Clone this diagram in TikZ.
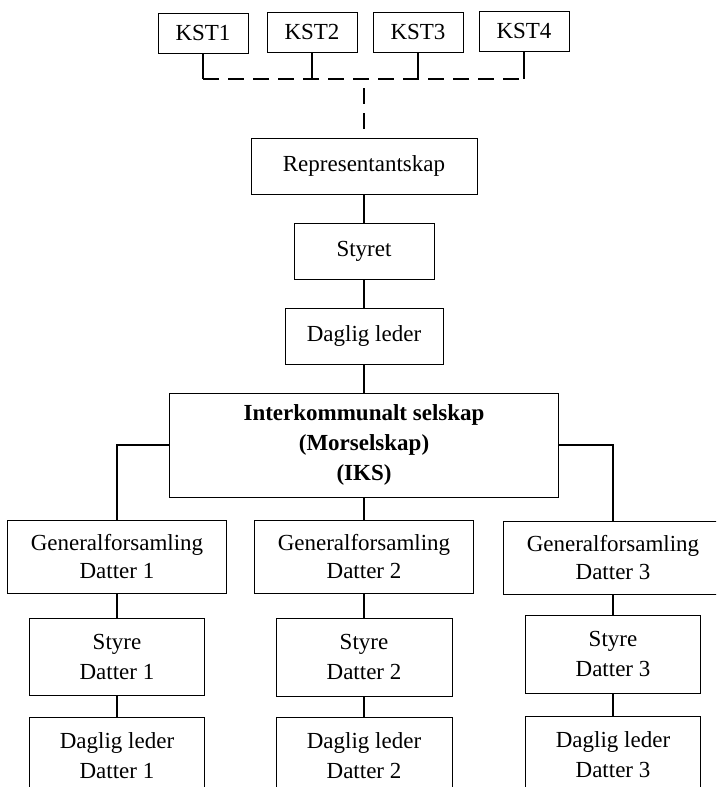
\documentclass[tikz,border=0pt]{standalone}
\usepackage{fontspec}
\setmainfont{Liberation Serif}
\begin{document}
\begin{tikzpicture}[x=1pt, y=-1pt,
    every node/.style={font=\fontsize{23}{30}\selectfont},
    box/.style={draw, line width=0.8pt, align=center, inner sep=0pt},
    link/.style={line width=2.2pt},
    dashlink/.style={line width=2.2pt, dash pattern=on 16pt off 9pt}]
    \useasboundingbox (0,0) rectangle (716,787);
    \clip (0,0) rectangle (716,787);
    % kommunene
    \node[box, minimum width=90pt, minimum height=40pt] (kst1) at (203,33) {KST1};
    \node[box, minimum width=90pt, minimum height=40pt] (kst2) at (312,32) {KST2};
    \node[box, minimum width=90pt, minimum height=40pt] (kst3) at (418,32) {KST3};
    \node[box, minimum width=90pt, minimum height=40pt] (kst4) at (524,31) {KST4};
    \coordinate (bus) at (364,79);
    % morselskapet
    \node[box, minimum width=226pt, minimum height=56pt] (rep) at (364,166) {Representantskap};
    \node[box, minimum width=140pt, minimum height=56pt] (styret) at (364,251) {Styret};
    \node[box, minimum width=158pt, minimum height=56pt] (leder) at (364,336) {Daglig leder};
    \node[box, minimum width=389pt, minimum height=104pt,
        font=\fontsize{23}{30}\selectfont\bfseries] (iks) at (364,445)
        {Interkommunalt selskap\\(Morselskap)\\(IKS)};
    % datterselskapene
    \tikzset{gfbox/.style={box, minimum width=219pt, minimum height=73pt,
        font=\fontsize{23}{28}\selectfont}}
    \node[gfbox] (gf1) at (117,556.5) {Generalforsamling\\Datter 1};
    \node[gfbox] (gf2) at (364,557) {Generalforsamling\\Datter 2};
    \node[gfbox] (gf3) at (613,558) {Generalforsamling\\Datter 3};
    \node[box, minimum width=175pt, minimum height=77pt] (sty1) at (117,656.5) {Styre\\Datter 1};
    \node[box, minimum width=176pt, minimum height=78pt] (sty2) at (364,657) {Styre\\Datter 2};
    \node[box, minimum width=175pt, minimum height=78pt] (sty3) at (613,654) {Styre\\Datter 3};
    \node[box, minimum width=175pt, minimum height=77pt] (dl1) at (117,755.5) {Daglig leder\\Datter 1};
    \node[box, minimum width=176pt, minimum height=77pt] (dl2) at (364,755.5) {Daglig leder\\Datter 2};
    \node[box, minimum width=175pt, minimum height=77pt] (dl3) at (613,754.5) {Daglig leder\\Datter 3};
    % linjer
    \foreach \k in {kst1,kst2,kst3,kst4}
        \draw[link] (\k.south) -- (\k.south |- bus);
    \draw[dashlink] (kst1.south |- bus) -- (kst4.south |- bus);
    \draw[dashlink, dash phase=16pt] (bus) -- (rep.north);
    \draw[link] (rep) -- (styret);
    \draw[link] (styret) -- (leder);
    \draw[link] (leder) -- (iks);
    \draw[link] (iks.west) -| (gf1.north);
    \draw[link] (iks.east) -| (gf3.north);
    \draw[link] (iks.south) -- (gf2.north);
    \foreach \i in {1,2,3} {
        \draw[link] (gf\i) -- (sty\i);
        \draw[link] (sty\i) -- (dl\i);
    }
\end{tikzpicture}
\end{document}
